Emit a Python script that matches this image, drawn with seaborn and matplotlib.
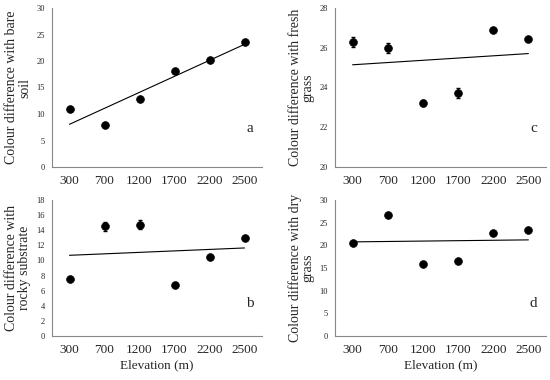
import numpy as np
import matplotlib
matplotlib.use("Agg")
import matplotlib.pyplot as plt
import seaborn as sns

sns.set_style("white")
plt.rcParams['font.family'] = ['Liberation Serif', 'DejaVu Serif']

# elevation classes (categorical x axis)
elevations = ['300', '700', '1200', '1700', '2200', '2500']

# colour difference values per substrate
bare_soil = [10.9, 7.9, 12.9, 18.1, 20.2, 23.6]
bare_soil_err = [0.2, 0.2, 0.2, 0.2, 0.2, 0.2]
fresh_grass = [26.3, 26.0, 23.2, 23.7, 26.9, 26.45]
fresh_grass_err = [0.25, 0.25, 0.15, 0.25, 0.1, 0.1]
rocky = [7.6, 14.5, 14.7, 6.8, 10.4, 13.0]
rocky_err = [0.2, 0.6, 0.6, 0.2, 0.2, 0.2]
dry_grass = [20.5, 26.8, 15.9, 16.5, 22.8, 23.4]
dry_grass_err = [0.2, 0.3, 0.2, 0.2, 0.2, 0.2]

W, H = 550, 380
fig = plt.figure(figsize=(W / 100, H / 100), dpi=100)


def px_axes(left, right, top, bottom):
    return fig.add_axes([left / W, (H - bottom) / H, (right - left) / W, (bottom - top) / H])


panels = [
    # values, errors, ylabel, yticks, letter, box, show xlabel
    (bare_soil, bare_soil_err, 'Colour difference with bare\nsoil', np.arange(0, 31, 5), 'a',
     (52, 262, 8, 167), False),
    (fresh_grass, fresh_grass_err, 'Colour difference with fresh\ngrass', np.arange(20, 29, 2), 'c',
     (335, 546, 8, 167), False),
    (rocky, rocky_err, 'Colour difference with\nrocky substrate', np.arange(0, 19, 2), 'b',
     (52, 262, 200, 336), True),
    (dry_grass, dry_grass_err, 'Colour difference with dry\ngrass', np.arange(0, 31, 5), 'd',
     (335, 546, 200, 336), True),
]

idx = np.arange(len(elevations))
for vals, errs, ylab, yticks, letter, box, show_x in panels:
    ax = px_axes(*box)
    ax.errorbar(idx, vals, yerr=errs, fmt='none', ecolor='black', elinewidth=0.7, capsize=1.2)
    sns.scatterplot(x=idx, y=vals, ax=ax, color='black', s=32, edgecolor='black', zorder=3)
    sns.regplot(x=idx, y=vals, ax=ax, scatter=False, ci=None,
                line_kws={'color': 'black', 'lw': 0.8})
    ax.set_xlim(-0.5, len(elevations) - 0.5)
    ax.set_ylim(yticks[0], yticks[-1])
    ax.set_yticks(yticks)
    ax.set_xticks(idx)
    ax.set_xticklabels(elevations, fontsize=9.5)
    ax.set_xticks(np.arange(-0.5, len(elevations), 1), minor=True)
    ax.tick_params(axis='x', which='major', length=0, pad=6)
    ax.tick_params(axis='x', which='minor', length=3, color='#888888', width=0.8)
    ax.tick_params(axis='y', length=3, color='#888888', width=0.8, labelsize=6, pad=2)
    for s in ['top', 'right']:
        ax.spines[s].set_visible(False)
    for s in ['left', 'bottom']:
        ax.spines[s].set_color('#888888')
        ax.spines[s].set_linewidth(0.8)
    ax.set_ylabel(ylab, fontsize=10, linespacing=0.95, labelpad=4)
    if show_x:
        ax.set_xlabel('Elevation (m)', fontsize=9.5, labelpad=2)
    ax.text(0.94, 0.24, letter, transform=ax.transAxes, fontsize=11, ha='center', va='center')

fig.savefig('out.png', dpi=100)
